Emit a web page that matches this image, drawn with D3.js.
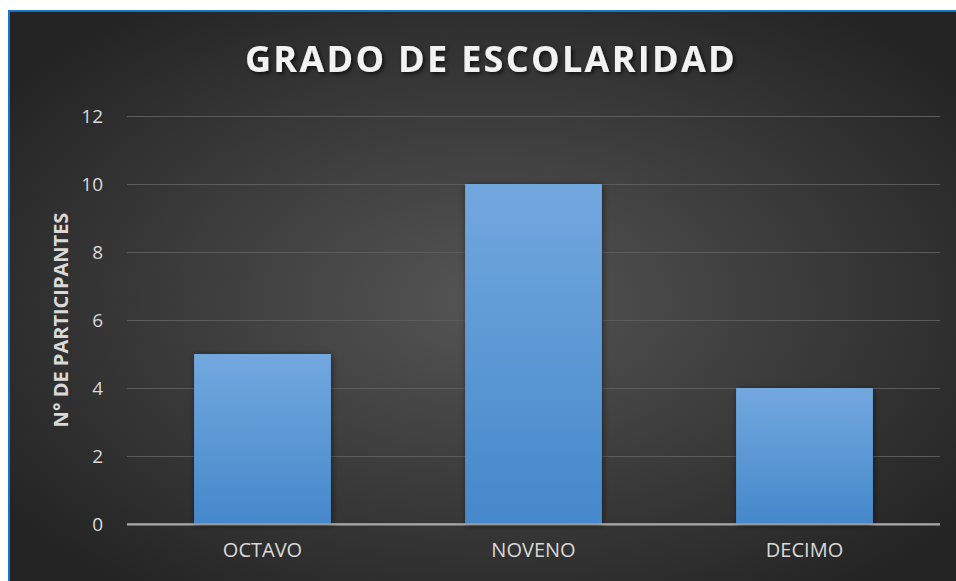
<!DOCTYPE html>
<html lang="es">
<head>
<meta charset="UTF-8">
<title>Grado de escolaridad</title>
<style>
  * { margin: 0; padding: 0; }
  body { background: #fff; width: 956px; height: 581px; overflow: hidden; }
  svg { display: block; }
</style>
</head>
<body>
<svg id="chart" width="956" height="581"></svg>
<script src="https://cdnjs.cloudflare.com/ajax/libs/d3/7.8.5/d3.min.js"></script>
<script>
var categories = ['OCTAVO', 'NOVENO', 'DECIMO'];
var values = [5, 10, 4];
var yTicks = [0, 2, 4, 6, 8, 10, 12];
var title = 'GRADO DE ESCOLARIDAD';
var yLabel = 'N° DE PARTICIPANTES';

var svg = d3.select('#chart');
var plot = { left: 127, right: 940, top: 116, bottom: 524 };

var defs = svg.append('defs');
var bg = defs.append('radialGradient').attr('id', 'bg')
  .attr('cx', '50%').attr('cy', '50%').attr('r', '62%');
bg.append('stop').attr('offset', '0%').attr('stop-color', '#555555');
bg.append('stop').attr('offset', '100%').attr('stop-color', '#242424');

var barGrad = defs.append('linearGradient').attr('id', 'barGrad')
  .attr('x1', 0).attr('y1', 0).attr('x2', 0).attr('y2', 1);
barGrad.append('stop').attr('offset', '0%').attr('stop-color', '#72a8de');
barGrad.append('stop').attr('offset', '100%').attr('stop-color', '#4588cb');

var shadow = defs.append('filter').attr('id', 'shadow')
  .attr('x', '-20%').attr('y', '-20%').attr('width', '140%').attr('height', '140%');
shadow.append('feDropShadow').attr('dx', 1).attr('dy', 1).attr('stdDeviation', 3)
  .attr('flood-color', '#000').attr('flood-opacity', 0.5);

var tshadow = defs.append('filter').attr('id', 'tshadow')
  .attr('x', '-10%').attr('y', '-30%').attr('width', '120%').attr('height', '160%');
tshadow.append('feDropShadow').attr('dx', 2).attr('dy', 2).attr('stdDeviation', 2)
  .attr('flood-color', '#000').attr('flood-opacity', 0.7);

// chart background with blue frame
svg.append('rect')
  .attr('x', 9).attr('y', 11).attr('width', 960).attr('height', 580)
  .attr('fill', 'url(#bg)')
  .attr('stroke', '#1a73c8').attr('stroke-width', 2);

var x = d3.scaleBand()
  .domain(categories)
  .range([plot.left, plot.right])
  .paddingInner(0.495)
  .paddingOuter(0.2475);

var y = d3.scaleLinear()
  .domain([0, 12])
  .range([plot.bottom, plot.top]);

// gridlines + y tick labels
var yAxis = svg.append('g')
  .attr('transform', 'translate(' + plot.left + ',0)')
  .call(d3.axisLeft(y).tickValues(yTicks).tickSize(-(plot.right - plot.left)).tickPadding(24));
yAxis.select('.domain').remove();
yAxis.attr('font-family', '"Open Sans", sans-serif').attr('font-size', 19);
yAxis.selectAll('.tick text').attr('fill', '#d9d9d9');
yAxis.selectAll('.tick line')
  .attr('stroke', function(d) { return d === 0 ? '#a9a9a9' : '#5c5c5c'; })
  .attr('stroke-width', function(d) { return d === 0 ? 2 : 1; });

// bars
svg.append('g').selectAll('rect')
  .data(values)
  .enter().append('rect')
  .attr('x', function(d, i) { return x(categories[i]); })
  .attr('y', function(d) { return y(d); })
  .attr('width', x.bandwidth())
  .attr('height', function(d) { return y(0) - y(d); })
  .attr('fill', 'url(#barGrad)')
  .attr('filter', 'url(#shadow)');

// redraw baseline over the bars
svg.append('line')
  .attr('x1', plot.left).attr('x2', plot.right)
  .attr('y1', y(0)).attr('y2', y(0))
  .attr('stroke', '#a9a9a9').attr('stroke-width', 2).attr('stroke-opacity', 0.6);

// x axis labels
var xAxis = svg.append('g')
  .attr('transform', 'translate(0,' + plot.bottom + ')')
  .call(d3.axisBottom(x).tickSize(0).tickPadding(19));
xAxis.select('.domain').remove();
xAxis.attr('font-family', '"Open Sans", sans-serif').attr('font-size', 20);
xAxis.selectAll('.tick text').attr('fill', '#d9d9d9');

// title
svg.append('text')
  .attr('x', 491).attr('y', 72)
  .attr('text-anchor', 'middle')
  .attr('font-family', '"Open Sans", sans-serif')
  .attr('font-weight', 'bold')
  .attr('font-size', 36)
  .attr('letter-spacing', 2.3)
  .attr('fill', '#f2f2f2')
  .attr('filter', 'url(#tshadow)')
  .text(title);

// y axis label
svg.append('text')
  .attr('transform', 'translate(68,' + ((plot.top + plot.bottom) / 2) + ') rotate(-90)')
  .attr('text-anchor', 'middle')
  .attr('font-family', '"Open Sans", sans-serif')
  .attr('font-weight', 'bold')
  .attr('font-size', 20)
  .attr('fill', '#d9d9d9')
  .text(yLabel);
</script>
</body>
</html>
